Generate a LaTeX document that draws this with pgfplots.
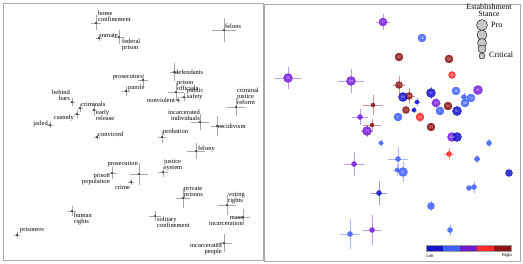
\documentclass[border=0pt]{standalone}
\usepackage{pgfplots}
\usepackage{pgfplotstable}
\usepackage{fontspec}
\setmainfont{Liberation Serif}
\pgfplotsset{compat=1.18}

\definecolor{cDB}{HTML}{1515CC}
\definecolor{cB}{HTML}{4262FF}
\definecolor{cP}{HTML}{7A1FE0}
\definecolor{cR}{HTML}{FF2A2A}
\definecolor{cDR}{HTML}{8E1414}
\definecolor{frm}{HTML}{A8A8A8}

\pgfplotstableread{
x y ex ey
96 23 5 7.5
99 38 3 3.5
119 37 5 7
224 30 12 12
174 72 4 9
143 80 5 6
72 102 2.5 4
80 108 2.5 4
77 114 3 4
50 125 3 3
94 110 2.5 6
126 91 4 5
176 92 8 9
184 97 4 4
178 100 3 3
200 122 9 8
217 126 6 10
236 107 9 9
97 137 3 3
162 137 4 6
196 151 9 8
163 172 5 5
139 174 9 11
112 173 5 6
131 182 3 3
183 198 7 10
227 205 9 10
72 211 4 5
155 216 6 5
243 217 7 8
17 235 3 3
224 243 8 9
}\leftpts

\pgfplotstableread{
x y ex ey r
383 22 7 8 4
288 78 13 11 4.5
351 81 13 12 4.5
360 117 8 8 2.5
367 131 6 6 4.5
436 103 5 5 4
478 90 0 0 4.5
452 137 0 0 4.5
354 164 10 12 2.5
372 230 9 15 2.5
}\tP

\pgfplotstableread{
x y ex ey r
399 57 0 0 4
449 59 0 0 4
399 85 6 9 3.5
409 96 6 8 3.5
373 105 10 10 2
372 125 9 6 2
448 106 3 4 4
406 110 3 3 3.5
431 127 3 4 4
}\tDR

\pgfplotstableread{
x y ex ey r
452 75 0 0 3.5
420 117 4 5 4
449 154 5 6 2.5
}\tR

\pgfplotstableread{
x y ex ey r
403 97 4 4 4.5
431 93 4 6 4.5
457 111 4 5 4.5
414 110 3 3 2
417 102 3 4 2
457 137 0 0 4.5
509 173 0 0 3.5
379 193 8 12 2.5
}\tDB

\pgfplotstableread{
x y ex ey r
422 38 0 0 4
456 91 0 0 4
464 97 4 4 2.5
471 98 0 0 4
465 103 0 0 4
440 111 3 4 4
398 117 4 4 4
381 143 3 4 2
489 143 0 4 2.5
477 159 3 4 2.5
398 159 10 12 2.5
403 172 4 10 4.5
397 170 4 6 2
469 188 0 0 2.5
474 187 0 6 2.5
431 206 0 5 3.5
450 230 0 6 2.5
350 234 10 15 2.5
}\tB

% id numbers printed inside the larger circles
\pgfplotstableread{
x y lbl
383 22 17
288 78 16
351 81 101
367 131 13
436 103 33
478 90 91
452 137 100
399 57 27
449 59 52
399 85 73
409 96 28
448 106 21
406 110 12
431 127 53
452 75 36
420 117 20
403 97 60
431 93 31
457 111 61
422 38 18
456 91 28
471 98 34
465 103 90
440 111 5
398 117 6
403 172 21
}\tLbl

% one plot per colour and circle size
\newcommand{\grp}[3]{%
\addplot[only marks, mark=*, mark size=#3, color=#1,
 mark options={draw=none, fill=#1, fill opacity=0.85},
 x filter/.expression={abs(\thisrow{r}-#3)<0.01 ? x : nan},
 unbounded coords=discard,
 error bars/.cd, x dir=both, x explicit, y dir=both, y explicit,
 error bar style={color=#1, opacity=0.45, line width=0.8pt}, error mark=none]
 table[x=x, y=y, x error=ex, y error=ey]{#2};}

\begin{document}
\begin{tikzpicture}[x=1bp,y=1bp]
% ---------------- left panel ----------------
\begin{axis}[at={(3bp,4bp)}, anchor=south west, scale only axis,
  width=260bp, height=257bp, xmin=3, xmax=263, ymin=3, ymax=260,
  y dir=reverse, axis line style={frm, line width=0.8pt},
  xtick=\empty, ytick=\empty, clip=false]
\addplot[only marks, mark=*, mark size=0.8pt, color=black!75,
  error bars/.cd, x dir=both, x explicit, y dir=both, y explicit,
  error bar style={color=black!35, line width=0.5pt}, error mark=none]
  table[x=x, y=y, x error=ex, y error=ey]{\leftpts};
\tikzset{lab/.style={font=\fontsize{6.5}{6}\selectfont, inner sep=0pt}}
\node[lab, anchor=west, align=left] at (axis cs:98,16) {home\\confinement};
\node[lab, anchor=west] at (axis cs:100,35) {inmate};
\node[lab, anchor=west, align=left] at (axis cs:122,44.5) {federal\\prison};
\node[lab, anchor=west] at (axis cs:225,26) {felons};
\node[lab, anchor=west] at (axis cs:175,72) {defendants};
\node[lab, anchor=east] at (axis cs:143,77) {prosecutors};
\node[lab, anchor=west, align=left] at (axis cs:177,85) {prison\\officials};
\node[lab, anchor=west, align=left] at (axis cs:187,93.5) {public\\safety};
\node[lab, anchor=west] at (axis cs:128,88) {parole};
\node[lab, anchor=east, align=right] at (axis cs:70,95.5) {behind\\bars};
\node[lab, anchor=west] at (axis cs:81,104) {criminals};
\node[lab, anchor=east] at (axis cs:175,100) {nonviolent};
\node[lab, anchor=east] at (axis cs:74,118) {custody};
\node[lab, anchor=west, align=left] at (axis cs:96,115) {early\\release};
\node[lab, anchor=east] at (axis cs:48,124) {jailed};
\node[lab, anchor=east, align=right] at (axis cs:200,115) {incarcerated\\individuals};
\node[lab, anchor=west] at (axis cs:218,126) {recidivism};
\node[lab, anchor=west, align=left] at (axis cs:237,96.5) {criminal\\justice\\reform};
\node[lab, anchor=west] at (axis cs:98,134) {convicted};
\node[lab, anchor=west] at (axis cs:163,132) {probation};
\node[lab, anchor=west] at (axis cs:198,149) {felony};
\node[lab, anchor=west, align=left] at (axis cs:164,165) {justice\\system};
\node[lab, anchor=east] at (axis cs:138,164) {prosecution};
\node[lab, anchor=east, align=right] at (axis cs:110,179) {prison\\population};
\node[lab, anchor=west] at (axis cs:115,187) {crime};
\node[lab, anchor=west, align=left] at (axis cs:184,192) {private\\prisons};
\node[lab, anchor=west, align=left] at (axis cs:228,198) {voting\\rights};
\node[lab, anchor=west, align=left] at (axis cs:74,219) {human\\rights};
\node[lab, anchor=west, align=left] at (axis cs:157,222.5) {solitary\\confinement};
\node[lab, anchor=east, align=right] at (axis cs:243,221) {mass\\incarceration};
\node[lab, anchor=west] at (axis cs:20,230) {prisoners};
\node[lab, anchor=east, align=right] at (axis cs:222,248.5) {incarcerated\\people};
\end{axis}
% ---------------- right panel ----------------
\begin{axis}[at={(264bp,3bp)}, anchor=south west, scale only axis,
  width=256bp, height=257bp, xmin=264, xmax=520, ymin=4, ymax=261,
  y dir=reverse, axis line style={frm, line width=0.8pt},
  xtick=\empty, ytick=\empty, clip=false]
\grp{cDR}{\tDR}{4}
\grp{cDR}{\tDR}{3.5}
\grp{cDR}{\tDR}{2}
\grp{cR}{\tR}{4}
\grp{cR}{\tR}{3.5}
\grp{cR}{\tR}{2.5}
\grp{cP}{\tP}{4.5}
\grp{cP}{\tP}{4}
\grp{cP}{\tP}{2.5}
\grp{cDB}{\tDB}{4.5}
\grp{cDB}{\tDB}{3.5}
\grp{cDB}{\tDB}{2.5}
\grp{cDB}{\tDB}{2}
\grp{cB}{\tB}{4.5}
\grp{cB}{\tB}{4}
\grp{cB}{\tB}{3.5}
\grp{cB}{\tB}{2.5}
\grp{cB}{\tB}{2}
% numbers inside circles
\addplot[only marks, mark=none, point meta=explicit symbolic, nodes near coords,
  every node near coord/.append style={anchor=center, font=\fontsize{3.4}{3.4}\selectfont, text=white, inner sep=0pt}]
  table[x=x, y=y, meta=lbl]{\tLbl};
% legend glyphs for establishment stance
\addplot[only marks, mark=*, mark size=5.5, mark options={draw=none, fill=black!22}] coordinates {(482,25)};
\addplot[only marks, mark=*, mark size=5, mark options={draw=none, fill=black!22}] coordinates {(482,35)};
\addplot[only marks, mark=*, mark size=4.5, mark options={draw=none, fill=black!22}] coordinates {(482,43)};
\addplot[only marks, mark=*, mark size=4, mark options={draw=none, fill=black!22}] coordinates {(482,49)};
\addplot[only marks, mark=*, mark size=3, mark options={draw=none, fill=black!22}] coordinates {(482,56)};
\node[font=\fontsize{8}{7}\selectfont, align=center, inner sep=0pt] at (axis cs:489,10.5) {Establishment\\Stance};
\node[font=\fontsize{8}{7}\selectfont, anchor=west, inner sep=0pt] at (axis cs:491,25) {Pro};
\node[font=\fontsize{8}{7}\selectfont, anchor=west, inner sep=0pt] at (axis cs:489,55) {Critical};
\fill[cDB] (axis cs:426,245) rectangle (axis cs:443.5,251);
\fill[cB] (axis cs:443,245) rectangle (axis cs:460.5,251);
\fill[cP!90!black] (axis cs:460,245) rectangle (axis cs:477.5,251);
\fill[cR] (axis cs:477,245) rectangle (axis cs:494.5,251);
\fill[cDR] (axis cs:494,245) rectangle (axis cs:511,251);
\draw[black!40, line width=0.3pt] (axis cs:426,245) rectangle (axis cs:511,251);
\node[font=\fontsize{4.5}{5}\selectfont, inner sep=0pt] at (axis cs:430,255.5) {Left};
\node[font=\fontsize{4.5}{5}\selectfont, inner sep=0pt] at (axis cs:507,255.5) {Right};
\end{axis}
\pgfresetboundingbox
\path (0,0) rectangle (523bp,264bp);
\end{tikzpicture}
\end{document}
